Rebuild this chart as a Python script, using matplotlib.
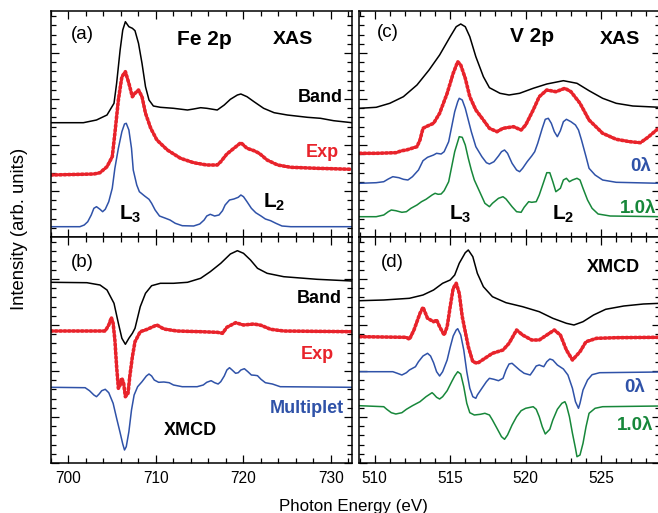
import matplotlib
matplotlib.use("Agg")
import matplotlib.pyplot as plt
from matplotlib.ticker import MultipleLocator

plt.rcParams['font.family'] = ['Liberation Sans', 'DejaVu Sans']
plt.rcParams['mathtext.fontset'] = 'custom'
plt.rcParams['mathtext.rm'] = 'Liberation Sans'
plt.rcParams['mathtext.bf'] = 'Liberation Sans:bold'

RED = '#e8232b'
BLUE = '#2f52a8'
GREEN = '#17873a'

# ---- (a) Fe 2p XAS ----
fe_xas_band_x = [698.0, 701.7, 703.2, 704.4, 705.2, 705.5, 705.9, 706.2, 706.5, 706.9, 707.3, 707.6, 708.0, 708.4,
                 708.8, 709.2, 709.7, 710.5, 712.0, 713.6, 714.3, 715.1, 715.8, 717.0, 717.8, 718.5, 719.3, 719.7,
                 720.4, 721.2, 722.3, 723.5, 725.0, 727.3, 728.8, 730.3, 732.4]
fe_xas_band_y = [114.3, 114.3, 117, 122, 133.7, 153.7, 187, 207, 215.3, 210.3, 208.7, 206.3, 193.7, 173.7,
                 150.3, 137, 131, 129.7, 128.7, 127, 128, 129.3, 128.7, 127, 132, 137.7, 142, 143,
                 140.3, 135.3, 128.7, 124.3, 122, 119.7, 118.7, 116.3, 114.3]

fe_xas_exp_x = [698.0, 702.9, 703.6, 704.4, 705.0, 705.3, 705.7, 706.1, 706.5, 706.9, 707.3, 707.6, 708.0, 708.4,
                708.8, 709.4, 710.1, 711.3, 712.8, 714.3, 715.8, 717.0, 717.4, 718.1, 718.9, 719.7, 720.4, 721.2,
                721.8, 722.7, 723.9, 725.4, 728.4, 732.4]
fe_xas_exp_y = [62, 63, 64.3, 70.3, 80.3, 103.7, 137, 160.3, 165.3, 153.7, 140.3, 143.7, 147, 140.3,
                123.7, 108.7, 97, 87, 78.7, 74.3, 72, 72, 75.3, 83, 88.7, 94.3, 88.7, 86.3,
                83.7, 77, 72, 69.7, 68.7, 67.7]

fe_xas_mult_x = [698.0, 701.3, 701.8, 702.2, 702.6, 702.9, 703.2, 703.6, 703.9, 704.2, 704.6, 705.0, 705.3, 705.7,
                 706.1, 706.4, 706.6, 706.9, 707.2, 707.4, 707.8, 708.1, 708.7, 709.2, 709.5, 709.9, 710.4, 711.1,
                 711.6, 712.2, 713.0, 714.3, 715.0, 715.5, 715.8, 716.2, 716.7, 717.2, 717.6, 717.9, 718.4, 718.9,
                 719.4, 719.7, 720.0, 720.4, 720.9, 721.4, 722.0, 722.5, 723.1, 723.7, 724.4, 725.4, 732.4]
fe_xas_mult_y = [10.3, 10.3, 12, 15.3, 22, 28.7, 30.3, 27.7, 25.3, 27.7, 35.3, 48.7, 68.7, 88.7,
                 105.3, 113, 113.7, 107, 88.7, 67, 52, 45.3, 41, 37.7, 33.7, 27, 21, 18.7,
                 17, 13.7, 11.3, 11, 13, 17, 21, 22.7, 21, 22, 26.3, 32, 37, 38,
                 39.7, 42, 40.3, 35.3, 28.7, 24.3, 21, 18, 16.3, 13.7, 11, 10.3, 10.3]

# ---- (b) Fe 2p XMCD ----
fe_mcd_band_x = [698.0, 702.1, 703.6, 704.4, 705.2, 705.7, 706.1, 706.5, 706.9, 707.3, 707.6, 708.2, 708.8, 709.5,
                 710.5, 712.0, 713.6, 715.1, 716.2, 717.4, 718.5, 719.3, 720.0, 720.8, 721.6, 722.7, 724.6, 728.4,
                 732.4]
fe_mcd_band_y = [180.7, 180.3, 178, 173, 159.7, 139.7, 124.7, 118.7, 124.7, 129.7, 134.7, 156.3, 169.7, 177.3,
                 179.7, 179.7, 180.7, 184.7, 191.3, 199.7, 209, 212.3, 209.7, 203, 194.7, 189.7, 186.3, 183.7,
                 182]

fe_mcd_exp_x = [698.0, 704.2, 704.6, 704.9, 705.1, 705.3, 705.5, 705.7, 705.9, 706.1, 706.3, 706.5, 706.8, 707.0,
                707.3, 707.6, 708.2, 709.0, 709.5, 710.1, 710.9, 712.4, 715.1, 717.0, 717.6, 718.1, 719.1, 720.0,
                721.2, 722.0, 723.1, 724.6, 732.4]
fe_mcd_exp_y = [132, 132, 138, 145.3, 139.7, 123, 96.3, 74.7, 78, 84.7, 79.7, 66.3, 69.7, 86.3,
                106.3, 121.3, 131.3, 133.7, 135.7, 138, 134, 132, 131.3, 130.7, 129.7, 135.7, 140.3, 138,
                139, 137.7, 133.7, 132, 131.3]

fe_mcd_mult_x = [698.0, 701.9, 702.4, 702.9, 703.2, 703.5, 703.8, 704.2, 704.6, 705.1, 705.5, 705.9, 706.2, 706.4,
                 706.6, 706.9, 707.2, 707.5, 707.9, 708.4, 708.9, 709.2, 709.5, 709.8, 710.3, 710.9, 711.5, 712.0,
                 713.0, 714.7, 715.4, 715.8, 716.3, 716.7, 717.1, 717.4, 717.8, 718.1, 718.4, 718.7, 719.1, 719.4,
                 719.7, 720.1, 720.5, 720.9, 721.3, 721.6, 722.0, 722.5, 723.3, 724.2, 732.4]
fe_mcd_mult_y = [75.7, 75.3, 72.3, 68, 66.3, 69, 72.3, 73.7, 70.3, 59.7, 44.7, 30.3, 19, 13,
                 16.3, 31.3, 53, 68, 76.3, 81.3, 87, 89, 87, 83, 80.7, 81, 80.3, 78,
                 76.3, 76.3, 78, 80.7, 82.3, 80.3, 79, 81.3, 87, 93, 95.3, 93, 89.7, 90.3,
                 93, 94.3, 91.3, 88, 87.7, 87.3, 83.7, 80.3, 79, 76.3, 75.7]

# ---- (c) V 2p XAS ----
v_xas_band_x = [509.0, 510.1, 511.0, 511.9, 512.8, 513.6, 514.3, 515.0, 515.4, 515.7, 516.0, 516.3, 516.7, 517.2,
                517.6, 518.3, 518.9, 519.6, 520.5, 521.4, 522.5, 523.4, 524.2, 525.1, 526.0, 527.1, 528.9]
v_xas_band_y = [128.7, 129.7, 133.7, 140.3, 152, 167, 182, 200.3, 210.3, 213, 210.3, 200.3, 180.3, 160.3,
                149.3, 143.7, 142, 143.7, 148.7, 153, 156.3, 153.7, 146.3, 138.7, 133.7, 131, 129.7]

v_xas_exp_x = [509.0, 510.1, 511.4, 511.8, 512.1, 512.8, 513.0, 513.2, 513.5, 513.9, 514.3, 514.8, 515.2, 515.5,
               515.7, 516.0, 516.3, 516.7, 517.2, 517.6, 518.1, 518.5, 519.2, 519.7, 520.0, 520.5, 520.9, 521.4,
               522.0, 522.6, 523.0, 523.6, 524.2, 525.1, 526.0, 526.9, 527.6, 528.1, 528.9]
v_xas_exp_y = [83.7, 83.7, 84.3, 86.3, 87, 90.3, 97, 108.7, 111, 113.7, 123.7, 143.7, 163.7, 175.3,
               172, 158.7, 140.3, 127, 117, 108.7, 105.3, 108.7, 110.3, 107, 112, 127, 140.3, 147,
               145.3, 148.7, 145.3, 133.7, 117, 103.7, 97.7, 95.3, 94.3, 99.7, 110]

v_xas_0_x = [509.0, 510.1, 510.6, 510.9, 511.2, 511.6, 511.9, 512.2, 512.5, 512.9, 513.2, 513.5, 513.9, 514.1,
             514.4, 514.6, 514.9, 515.1, 515.3, 515.5, 515.6, 515.8, 516.0, 516.2, 516.4, 516.7, 517.1, 517.4,
             517.6, 517.9, 518.2, 518.4, 518.6, 518.8, 519.1, 519.4, 519.6, 519.8, 520.1, 520.4, 520.6, 520.8,
             521.1, 521.3, 521.5, 521.7, 521.9, 522.1, 522.3, 522.5, 522.7, 523.0, 523.3, 523.5, 523.7, 524.0,
             524.2, 524.6, 525.1, 526.0, 528.9]
v_xas_0_y = [53.7, 54.3, 55.3, 58, 60.3, 59.3, 57.7, 57, 60.3, 67, 76.3, 79.7, 82, 83.7,
             83, 85.3, 95.3, 110.3, 125.3, 135.3, 138.7, 137, 128.7, 117, 105.3, 90.3, 80.3, 74.3,
             73, 75.3, 81, 85.3, 87, 83.7, 73.7, 67, 65.3, 68.7, 75.3, 81, 85.3, 93.7,
             108.7, 117.7, 118.7, 113.7, 105.3, 100.3, 106.3, 115.3, 117.7, 115.3, 112, 107, 97, 80.3,
             68.7, 62, 57, 54.7, 53.7]

v_xas_1_x = [509.0, 510.1, 510.6, 510.9, 511.1, 511.4, 511.8, 512.1, 512.4, 512.8, 513.1, 513.4, 513.8, 514.0,
             514.2, 514.4, 514.6, 514.9, 515.1, 515.3, 515.5, 515.6, 515.8, 516.0, 516.2, 516.4, 516.6, 517.0,
             517.3, 517.6, 517.8, 518.2, 518.5, 518.7, 519.1, 519.4, 519.7, 519.9, 520.2, 520.4, 520.7, 520.9,
             521.2, 521.4, 521.6, 521.8, 522.0, 522.3, 522.5, 522.7, 522.9, 523.1, 523.4, 523.6, 523.8, 524.1,
             524.4, 524.8, 525.6, 528.9]
v_xas_1_y = [20.3, 20.3, 22, 25.3, 27, 26.3, 24.7, 25.3, 28.7, 32, 35.3, 37.7, 42, 43.7,
             42.7, 43, 46.3, 55.3, 70.3, 85.3, 95.3, 100.3, 99.7, 92, 78.7, 67, 57, 43.7,
             33.7, 30.3, 33.7, 38.7, 40.3, 38, 30.3, 25.3, 24.7, 29.7, 35.3, 34.7, 35.3, 42,
             55.3, 64.3, 64.3, 55.3, 45.3, 48.7, 57, 58.7, 55.3, 57, 58.7, 57, 48.7, 37,
             28.7, 23, 21, 20.3]

# ---- (d) V 2p XMCD ----
v_mcd_band_x = [509.0, 510.6, 512.3, 513.2, 513.9, 514.5, 515.0, 515.3, 515.6, 516.0, 516.2, 516.5, 516.8, 517.2,
                517.8, 518.7, 519.8, 520.9, 521.8, 522.7, 523.2, 523.8, 524.5, 525.3, 526.5, 527.8, 528.9]
v_mcd_band_y = [162.3, 163, 164.7, 168, 173, 179.7, 183, 188, 199.7, 210.3, 213, 206.3, 189.7, 176.3,
                166.3, 160.3, 156.3, 151.3, 144.7, 139.7, 138, 141.3, 148, 153.7, 157, 159, 159.7]

v_mcd_exp_x = [509.0, 512.1, 512.3, 512.6, 513.0, 513.2, 513.5, 513.9, 514.1, 514.3, 514.6, 514.8, 515.0, 515.2,
               515.4, 515.6, 515.8, 516.2, 516.5, 516.8, 517.3, 517.8, 518.5, 518.9, 519.4, 519.8, 520.4, 520.9,
               521.4, 521.9, 522.3, 522.7, 523.1, 523.6, 524.0, 524.7, 526.0, 528.9]
v_mcd_exp_y = [126.3, 125.7, 123.7, 133, 149.7, 155.7, 144.7, 141.3, 143, 136.3, 128, 136.3, 156.3, 174.7,
               179.7, 169.7, 146.3, 116.3, 101.3, 99.7, 104.7, 109.7, 113, 119.7, 133, 128, 123, 123,
               128, 133, 128, 113, 103, 111.3, 121.3, 124.7, 125.3, 125.7]

v_mcd_0_x = [509.0, 511.2, 511.5, 511.8, 512.1, 512.3, 512.7, 512.9, 513.2, 513.5, 513.7, 513.9, 514.1, 514.3,
             514.5, 514.8, 515.0, 515.2, 515.4, 515.5, 515.7, 515.9, 516.1, 516.3, 516.5, 516.7, 516.8, 517.1,
             517.4, 517.6, 517.9, 518.2, 518.5, 518.7, 518.9, 519.1, 519.3, 519.6, 519.9, 520.3, 520.5, 520.7,
             520.9, 521.2, 521.4, 521.6, 521.8, 522.1, 522.5, 522.8, 523.1, 523.3, 523.5, 523.6, 523.8, 524.1,
             524.4, 524.9, 528.9]
v_mcd_0_y = [91.3, 91.3, 89.7, 88, 90.3, 93, 96.3, 101.3, 107, 109.7, 107, 100.3, 91.3, 87,
             91.3, 103, 115.7, 127, 133, 134.3, 128, 113, 91.3, 74.7, 66.3, 64.7, 68, 74.7,
             81.3, 84.7, 83.7, 82.3, 84.7, 93, 99, 99.7, 97, 93, 89.7, 88, 92.3, 97,
             98, 96.3, 101.3, 104, 103, 98, 94, 88, 74.7, 61.3, 54.7, 59.7, 73, 83,
             88.3, 90.3, 91]

v_mcd_1_x = [509.0, 510.6, 510.8, 511.1, 511.4, 511.8, 512.1, 512.5, 513.0, 513.4, 513.8, 513.9, 514.1, 514.3,
             514.5, 514.8, 515.1, 515.3, 515.5, 515.7, 515.9, 516.1, 516.3, 516.6, 517.0, 517.3, 517.6, 517.8,
             518.1, 518.4, 518.6, 518.8, 519.1, 519.4, 519.7, 520.0, 520.5, 520.7, 520.9, 521.1, 521.3, 521.6,
             521.8, 522.1, 522.4, 522.6, 522.7, 522.9, 523.1, 523.3, 523.4, 523.6, 523.8, 524.0, 524.2, 524.6,
             525.1, 528.9]
v_mcd_1_y = [57.3, 56.3, 53.7, 50.3, 49, 50.3, 53.7, 57.3, 61.3, 66.3, 70.3, 69, 65.7, 64,
             66.3, 72.3, 81.3, 87, 91.3, 89, 76.3, 59.7, 50.3, 48, 48.7, 49.7, 48, 43,
             34.7, 26.3, 23.7, 28, 38, 46.3, 52.3, 54.7, 56.3, 53.7, 46.3, 36.3, 29, 33.7,
             43, 53.7, 59.7, 61.3, 58, 46.3, 29.7, 14.7, 6.3, 8, 19.7, 36.3, 49.7, 54.7,
             56.3, 57]

W, H = 658, 513
fig = plt.figure(figsize=(W / 100, H / 100), dpi=100)


def make_ax(x0, x1, y0, y1):
    return fig.add_axes([x0 / W, 1 - y1 / H, (x1 - x0) / W, (y1 - y0) / H])


ax_a = make_ax(51, 352, 11, 237)
ax_b = make_ax(51, 352, 237, 463)
ax_c = make_ax(359, 660, 11, 237)
ax_d = make_ax(359, 660, 237, 463)

exp_style = dict(color=RED, lw=2.6, linestyle=(0, (0.5, 0.7)), dash_capstyle='round')
line_kw = dict(lw=1.1)

ax_a.plot(fe_xas_band_x, fe_xas_band_y, color='black', **line_kw)
ax_a.plot(fe_xas_exp_x, fe_xas_exp_y, **exp_style)
ax_a.plot(fe_xas_mult_x, fe_xas_mult_y, color=BLUE, **line_kw)

ax_b.plot(fe_mcd_band_x, fe_mcd_band_y, color='black', **line_kw)
ax_b.plot(fe_mcd_exp_x, fe_mcd_exp_y, **exp_style)
ax_b.plot(fe_mcd_mult_x, fe_mcd_mult_y, color=BLUE, **line_kw)

ax_c.plot(v_xas_band_x, v_xas_band_y, color='black', **line_kw)
ax_c.plot(v_xas_exp_x, v_xas_exp_y, **exp_style)
ax_c.plot(v_xas_0_x, v_xas_0_y, color=BLUE, **line_kw)
ax_c.plot(v_xas_1_x, v_xas_1_y, color=GREEN, **line_kw)

ax_d.plot(v_mcd_band_x, v_mcd_band_y, color='black', **line_kw)
ax_d.plot(v_mcd_exp_x, v_mcd_exp_y, **exp_style)
ax_d.plot(v_mcd_0_x, v_mcd_0_y, color=BLUE, **line_kw)
ax_d.plot(v_mcd_1_x, v_mcd_1_y, color=GREEN, **line_kw)

for ax in (ax_a, ax_b):
    ax.set_xlim(698.0, 732.4)
    ax.xaxis.set_major_locator(MultipleLocator(10))
    ax.xaxis.set_minor_locator(MultipleLocator(2))
for ax in (ax_c, ax_d):
    ax.set_xlim(508.96, 528.9)
    ax.xaxis.set_major_locator(MultipleLocator(5))
    ax.xaxis.set_minor_locator(MultipleLocator(1))

for ax in (ax_a, ax_b, ax_c, ax_d):
    ax.set_ylim(0, 226)
    ax.yaxis.set_major_locator(MultipleLocator(46))
    ax.yaxis.set_minor_locator(MultipleLocator(9.2))
    ax.tick_params(which='both', direction='in', top=True, right=True, labelleft=False, width=0.9)
    ax.tick_params(which='major', length=6)
    ax.tick_params(which='minor', length=3.5)
    ax.tick_params(axis='x', labelsize=11.2, pad=6)
    for s in ax.spines.values():
        s.set_linewidth(1.1)

ax_a.tick_params(labelbottom=False)
ax_c.tick_params(labelbottom=False)

bold = dict(fontweight='bold', ha='center', va='center')
reg = dict(ha='center', va='center')

ax_a.text(0.103, 0.898, '(a)', transform=ax_a.transAxes, fontsize=13.5, **reg)
ax_a.text(0.508, 0.876, 'Fe 2p', transform=ax_a.transAxes, fontsize=15, **bold)
ax_a.text(0.804, 0.876, 'XAS', transform=ax_a.transAxes, fontsize=14, **bold)
ax_a.text(0.894, 0.619, 'Band', transform=ax_a.transAxes, fontsize=13, **bold)
ax_a.text(0.90, 0.376, 'Exp', transform=ax_a.transAxes, fontsize=13, color=RED, **bold)
ax_a.text(0.265, 0.10, r'$\mathbf{L_3}$', transform=ax_a.transAxes, fontsize=15, **reg)
ax_a.text(0.74, 0.155, r'$\mathbf{L_2}$', transform=ax_a.transAxes, fontsize=15, **reg)

ax_b.text(0.103, 0.889, '(b)', transform=ax_b.transAxes, fontsize=13.5, **reg)
ax_b.text(0.89, 0.73, 'Band', transform=ax_b.transAxes, fontsize=13, **bold)
ax_b.text(0.884, 0.482, 'Exp', transform=ax_b.transAxes, fontsize=13, color=RED, **bold)
ax_b.text(0.85, 0.239, 'Multiplet', transform=ax_b.transAxes, fontsize=13, color=BLUE, **bold)
ax_b.text(0.462, 0.146, 'XMCD', transform=ax_b.transAxes, fontsize=13, **bold)

ax_c.text(0.096, 0.903, '(c)', transform=ax_c.transAxes, fontsize=13.5, **reg)
ax_c.text(0.575, 0.885, 'V 2p', transform=ax_c.transAxes, fontsize=15, **bold)
ax_c.text(0.867, 0.876, 'XAS', transform=ax_c.transAxes, fontsize=14, **bold)
ax_c.text(0.934, 0.31, '0λ', transform=ax_c.transAxes, fontsize=13.5, color=BLUE, **bold)
ax_c.text(0.927, 0.128, '1.0λ', transform=ax_c.transAxes, fontsize=13.5, color=GREEN, **bold)
ax_c.text(0.338, 0.10, r'$\mathbf{L_3}$', transform=ax_c.transAxes, fontsize=15, **reg)
ax_c.text(0.68, 0.10, r'$\mathbf{L_2}$', transform=ax_c.transAxes, fontsize=15, **reg)

ax_d.text(0.11, 0.889, '(d)', transform=ax_d.transAxes, fontsize=13.5, **reg)
ax_d.text(0.844, 0.863, 'XMCD', transform=ax_d.transAxes, fontsize=13, **bold)
ax_d.text(0.917, 0.336, '0λ', transform=ax_d.transAxes, fontsize=13.5, color=BLUE, **bold)
ax_d.text(0.917, 0.168, '1.0λ', transform=ax_d.transAxes, fontsize=13.5, color=GREEN, **bold)

fig.text(19.5 / W, 1 - 229 / H, 'Intensity (arb. units)', rotation=90, fontsize=13.3, **reg)
fig.text(353.5 / W, 1 - 506 / H, 'Photon Energy (eV)', fontsize=12.2, **reg)

fig.savefig('out.png', dpi=100)
